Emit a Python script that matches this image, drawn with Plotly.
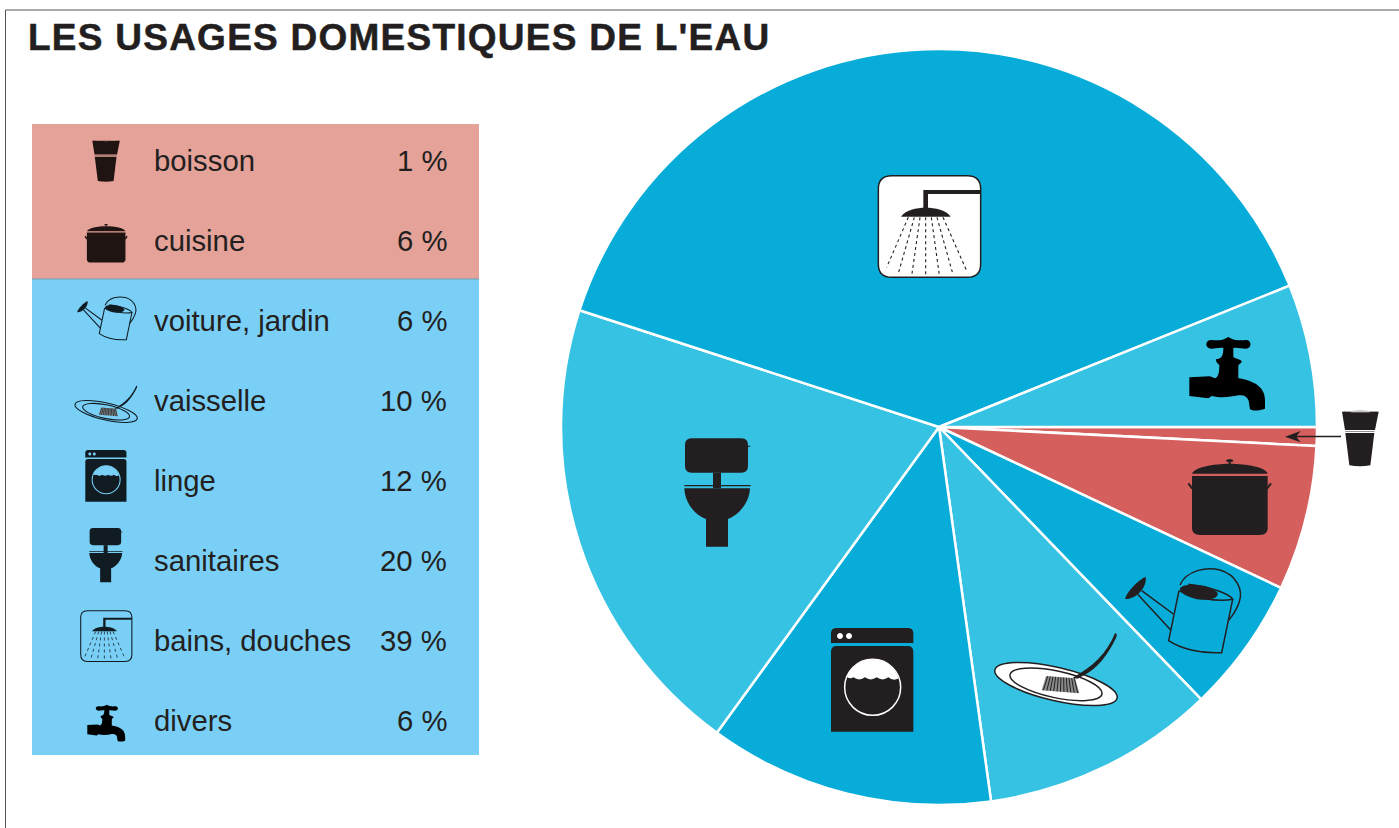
import re
import math
import plotly.graph_objects as go

W, H = 1399, 828

title = "LES USAGES DOMESTIQUES DE L'EAU"
categories = ["boisson", "cuisine", "voiture, jardin", "vaisselle", "linge", "sanitaires", "bains, douches", "divers"]
# Percentages printed in the table
printed_percent = [1, 6, 6, 10, 12, 20, 39, 6]
# Wedge sizes as actually drawn, measured from the wedge boundaries in the picture
drawn_share = [0.8, 6.2, 5.8, 10.0, 12.2, 20.0, 38.9, 6.1]
RED, DEEP, LIGHT = "#D45F5D", "#08ACD9", "#36C2E2"
slice_colors = [RED, RED, DEEP, LIGHT, DEEP, LIGHT, DEEP, LIGHT]
INK = "#231F20"


def ellipse(cx, cy, rx, ry, deg=0.0):
    c, s = math.cos(math.radians(deg)), math.sin(math.radians(deg))
    K = 0.5523
    def p(u, v):
        return f"{cx + u * rx * c - v * ry * s:.2f},{cy + u * rx * s + v * ry * c:.2f}"
    return (f"M{p(1,0)} C{p(1,K)} {p(K,1)} {p(0,1)} C{p(-K,1)} {p(-1,K)} {p(-1,0)} "
            f"C{p(-1,-K)} {p(-K,-1)} {p(0,-1)} C{p(K,-1)} {p(1,-K)} {p(1,0)} Z")


def rrect(x0, y0, x1, y1, r):
    return (f"M{x0+r},{y0} L{x1-r},{y0} Q{x1},{y0} {x1},{y0+r} L{x1},{y1-r} Q{x1},{y1} {x1-r},{y1} "
            f"L{x0+r},{y1} Q{x0},{y1} {x0},{y1-r} L{x0},{y0+r} Q{x0},{y0} {x0+r},{y0} Z")


# Decorative pictograms: (kind, path, stroke width) in the 3x crop space of each drawing
GLASS = [
    ("fill", "M516,275 Q571,269 626,275 L615,330 L525,330 Z", 0),
    ("fill", "M525,333.5 L614,333.5 L613.5,335 L525.5,335 Z", 0),
    ("fill", "M526,339 L613,339 L601,436 Q570,442 538,436 Z", 0),
    ("paper", ellipse(571, 275, 46, 1.5, 0), 0),
]
POT = [
    ("fill", "M66,461 C72,442 130,431 179,431 C230,431 288,442 293,461 Z", 0),
    ("fill", ellipse(179, 422, 11, 4), 0),
    ("fill", "M176,422 L182,422 L182,433 L176,433 Z", 0),
    ("fill", "M66,468 L293,468 L293,625 Q293,645 270,645 L90,645 Q66,645 66,625 Z", 0),
    ("stroke", "M55,490 L67,506", 2),
    ("stroke", "M303,490 L291,506", 2),
]
TAP = [
    ("fill", "M124,60 C140,62 160,62 175,51 C190,62 210,62 228,60 C246,60 246,85 228,86 C215,86 200,82 190,84 "
             "L190,110 C198,118 215,118 215,124 C215,132 205,130 205,140 L205,175 C240,180 285,195 285,240 "
             "L285,266 C270,272 250,274 240,268 L236,242 C232,230 222,224 205,226 C180,232 150,234 125,228 "
             "L115,235 L58,228 L58,172 L120,169 L135,175 C145,170 148,160 148,135 C140,130 138,124 138,118 "
             "C150,116 160,114 160,84 C150,82 135,86 124,86 C104,85 104,60 124,60 Z", 0),
]
SHOWER = [
    ("panel", rrect(55, 47, 362, 352, 40), 1.5),
    ("fill", "M190,90 L362,90 L362,102 L204,102 L204,145 L190,145 Z", 0),
    ("fill", "M123,170 C135,150 170,143 197,143 C225,143 260,150 272,170 Z", 0),
]
for sx_, ex_ in [(145, 80), (163, 115), (180, 155), (197, 197), (214, 238), (231, 278), (249, 320)]:
    ey_ = {80: 322, 115: 340, 155: 348, 197: 348, 238: 345, 278: 340, 320: 332}[ex_]
    SHOWER.append(("dash", f"M{sx_},172 L{ex_},{ey_}", 1.1))
TOILET = [
    ("fill", rrect(75, 55, 264, 158, 20), 0),
    ("stroke", "M262,79 L271,79", 1),
    ("fill", "M159,158 L183,158 L183,205 L159,205 Z", 0),
    ("fill", "M73,195 L272,195 L272,199 L73,199 Z", 0),
    ("fill", "M73,205 L270,205 C268,250 235,285 204,297 L204,380 L138,380 L138,297 C105,285 75,250 73,205 Z", 0),
]
WASHER = [
    ("fill", "M513,640 Q513,624 530,624 L743,624 Q760,624 760,640 L760,669 L513,669 Z", 0),
    ("fill", "M513,695 Q513,678 530,678 L743,678 Q760,678 760,695 L760,935 L513,935 Z", 0),
    ("paper", ellipse(540, 648, 9, 9), 0),
    ("paper", ellipse(567, 648, 9, 9), 0),
    ("paper", "M560,770 C578,735 610,718 638,718 C672,718 702,738 716,775 Q700,785 685,772 Q668,785 650,772 "
              "Q632,785 615,772 Q598,785 580,772 Q570,778 560,770 Z", 0),
    ("ring", ellipse(638, 802, 84, 84), 1.5),
]
CAN = [
    ("stroke", "M597,122 L566,272 C600,295 660,312 725,308 L758,148", 1.5),
    ("stroke", "M597,122 C630,140 710,158 758,148 C750,130 680,108 625,103", 1.5),
    ("fill", "M600,115 C615,95 690,105 713,128 C718,150 670,152 645,146 C620,140 600,130 600,115 Z", 0),
    ("stroke", "M600,105 C620,60 680,50 720,60 C770,75 790,120 778,155 C770,180 755,200 745,212", 1.5),
    ("stroke", "M580,192 L485,122", 1.5),
    ("stroke", "M572,240 L473,133", 1.5),
    ("fill", "M497,80 C502,110 470,148 435,147 C440,125 475,90 497,80 Z", 0),
]
PLATE = [
    ("plate", ellipse(228, 402, 188, 50, 13), 1.5),
    ("plate", ellipse(228, 403, 141, 40, 12), 1.5),
    ("grey", "M198,378 L285,385 L298,430 L185,421 Z", 0),
    ("fill", "M278,383 C340,350 380,310 405,250 C415,250 410,262 400,280 C370,335 340,365 292,386 Z", 0),
]
for i in range(11):
    xa = 203 + i * 8
    xb = 190 + i * 10.3
    ya = 379 + i * 0.6
    yb = 421 + i * 0.8
    PLATE.append(("stroke", f"M{xa},{ya} L{xb},{yb}", 1))


def to_paper(path, k, tx, ty):
    out, nums = [], []
    for tok in re.findall(r"[MLCQZ]|-?\d+\.?\d*", path):
        if tok.isalpha():
            out.append(tok)
        else:
            nums.append(float(tok))
            if len(nums) == 2:
                out.append(f"{(nums[0]*k+tx)/W:.6f},{1-(nums[1]*k+ty)/H:.6f}")
                nums = []
    return " ".join(out)


def draw(icon, k, tx, ty, ink, paper, stroke_scale=1.0, panel=None, plate=None):
    res = []
    for kind, path, lw in icon:
        d = to_paper(path, k, tx, ty)
        spec = dict(type="path", path=d, xref="paper", yref="paper", layer="above")
        lw = lw * stroke_scale
        if kind == "fill":
            spec.update(fillcolor=ink, line=dict(width=0))
        elif kind == "paper":
            spec.update(fillcolor=paper, line=dict(width=0))
        elif kind == "ring":
            spec.update(fillcolor="rgba(0,0,0,0)", line=dict(color=paper, width=lw))
        elif kind == "panel":
            spec.update(fillcolor=panel or "rgba(0,0,0,0)", line=dict(color=ink, width=lw))
        elif kind == "plate":
            spec.update(fillcolor=plate or "rgba(0,0,0,0)", line=dict(color=ink, width=lw))
        elif kind == "grey":
            spec.update(fillcolor="#8a8a8a", line=dict(width=0))
        elif kind == "stroke":
            spec.update(fillcolor="rgba(0,0,0,0)", line=dict(color=ink, width=lw))
        elif kind == "dash":
            spec.update(fillcolor="rgba(0,0,0,0)", line=dict(color=ink, width=lw, dash="3px,3px"))
        res.append(spec)
    return res


def rect(x0, y0, x1, y1, color):
    return dict(type="rect", xref="paper", yref="paper", x0=x0/W, x1=x1/W, y0=1-y1/H, y1=1-y0/H,
                fillcolor=color, line=dict(width=0), layer="below")


shapes = [rect(32, 124, 479, 279, "#E4A298"), rect(32, 279, 479, 755, "#79CFF6"),
          dict(type="line", xref="paper", yref="paper", x0=32/W, x1=479/W, y0=1-279/H, y1=1-279/H,
               line=dict(color="#6f9fb0", width=1)),
          dict(type="path", xref="paper", yref="paper", path=f"M{5.5/W},0 L{5.5/W},{1-10/H} L1,{1-10/H}",
               fillcolor="rgba(0,0,0,0)", line=dict(color="#555555", width=1))]

# Icons on the pie
B = 1 / 3
shapes += draw(SHOWER, B, 860, 160, INK, "#ffffff", panel="#ffffff")
shapes += draw(TAP, B, 1170, 320, "#000000", "#ffffff")
shapes += draw(GLASS, B, 1170, 320, INK, "#ffffff")
shapes += draw(POT, B, 1170, 320, INK, RED)
shapes += draw(CAN, B, 980, 550, INK, DEEP)
shapes += draw(PLATE, B, 980, 550, INK, LIGHT, plate="#ffffff")
shapes += draw(WASHER, B, 660, 420, INK, "#ffffff")
shapes += draw(TOILET, B, 660, 420, INK, LIGHT)
shapes.append(dict(type="path", xref="paper", yref="paper", layer="above",
                   path=to_paper("M345,350 L392,333 L380,347 L513,347 L513,352 L380,352 L392,367 Z", B, 1170, 320),
                   fillcolor=INK, line=dict(width=0)))

# Icons in the table
RINK, BINK = "#1F1412", "#101B22"
RBG, BBG = "#E4A298", "#79CFF6"


def place(icon, bx, by, L, T, k, ink, paper, **kw):
    return draw(icon, k, L - bx * k, T - by * k, ink, paper, stroke_scale=0.7, **kw)


shapes += place(GLASS, 516, 272, 92.3, 140, 0.25, RINK, RBG)
shapes += place(POT, 55, 418, 85, 224, 0.17, RINK, RBG)
shapes += place(CAN, 433, 55, 76.7, 296.7, 0.17, BINK, BBG)
shapes += place(PLATE, 45, 250, 75, 385.7, 0.17, BINK, BBG)
shapes += place(WASHER, 513, 624, 85.3, 450, 1/6, BINK, BBG)
shapes += place(TOILET, 73, 55, 89.3, 528, 1/6, BINK, BBG)
shapes += place(SHOWER, 55, 47, 80.7, 610.7, 1/6, BINK, BBG)
shapes += place(TAP, 58, 52, 87.3, 705, 1/6, "#000000", BBG)

FONT = "Liberation Sans, Arial, sans-serif"
ann = [dict(text=f"<span style='letter-spacing:1.25px;stroke:{INK};stroke-width:0.5px'><b>{title}</b></span>",
            x=26/W, y=1-37.5/H, xref="paper", yref="paper",
            xanchor="left", yanchor="middle",
            showarrow=False, font=dict(family=FONT, size=37, color=INK))]
for i, (c, v) in enumerate(zip(categories, printed_percent)):
    yy = 1 - (160.6 + 80 * i) / H
    ann.append(dict(text=c, x=152/W, y=yy, xref="paper", yref="paper", xanchor="left", yanchor="middle",
                    showarrow=False, font=dict(family=FONT, size=29.3, color=INK)))
    ann.append(dict(text=f"{v} %", x=449/W, y=yy, xref="paper", yref="paper", xanchor="right", yanchor="middle",
                    showarrow=False, font=dict(family=FONT, size=29.3, color=INK)))

fig = go.Figure(go.Pie(labels=categories, values=drawn_share, sort=False, direction="clockwise", rotation=90,
                       marker=dict(colors=slice_colors, line=dict(color="#ffffff", width=2.5)),
                       textinfo="none", hoverinfo="label",
                       domain=dict(x=[561/W, 1317/W], y=[1-805/H, 1-49/H])))
fig.update_layout(width=W, height=H, margin=dict(l=0, r=0, t=0, b=0), showlegend=False,
                  paper_bgcolor="#ffffff", shapes=shapes, annotations=ann)
fig.write_html("out.html", config=dict(displayModeBar=False),
               post_script="document.body.style.margin='0';document.documentElement.style.overflow='hidden';")
